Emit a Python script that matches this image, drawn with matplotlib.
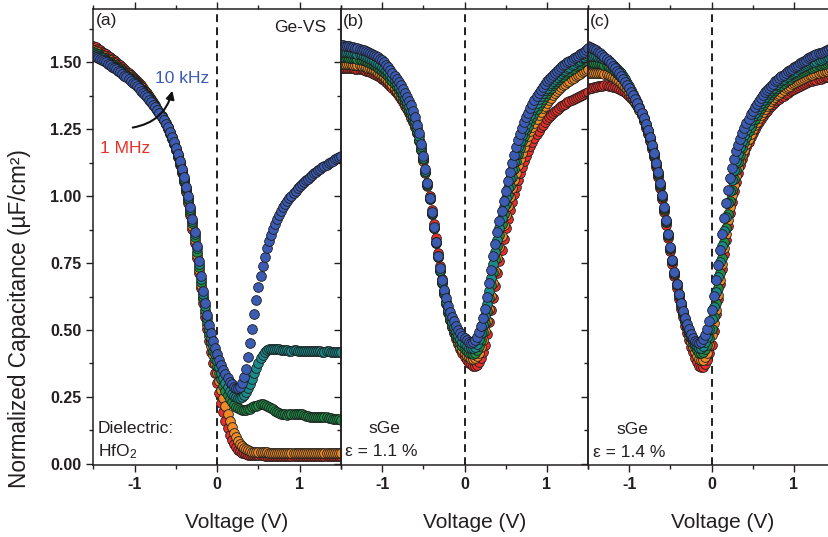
import numpy as np
import matplotlib
matplotlib.use("Agg")
import matplotlib.pyplot as plt
from matplotlib.ticker import MultipleLocator, FixedLocator, FormatStrFormatter

plt.rcParams['font.family'] = ['Liberation Sans', 'DejaVu Sans']
plt.rcParams['mathtext.fontset'] = 'custom'
plt.rcParams['mathtext.rm'] = 'Liberation Sans'
plt.rcParams['mathtext.it'] = 'Liberation Sans:italic'
plt.rcParams['axes.unicode_minus'] = False

# gate bias sweep (V), 25 mV steps
voltage = np.linspace(-1.5, 1.5, 121)

freq_labels = ["1 MHz", "10 kHz"]
series_colors = ["#e8302a", "#f08c28", "#1e8c46", "#1a8a8a", "#3c5cb4"]

# ---- (a) Ge-VS reference, HfO2 dielectric ----
a_1mhz = [1.562, 1.557, 1.552, 1.546, 1.541, 1.536, 1.530, 1.525, 1.519, 1.514,
          1.508, 1.502, 1.495, 1.489, 1.482, 1.475, 1.468, 1.461, 1.454, 1.447,
          1.440, 1.432, 1.423, 1.414, 1.405, 1.395, 1.385, 1.375, 1.364, 1.352,
          1.340, 1.327, 1.314, 1.300, 1.285, 1.269, 1.252, 1.234, 1.214, 1.194,
          1.172, 1.146, 1.117, 1.086, 1.052, 1.015, 0.974, 0.929, 0.879, 0.826,
          0.770, 0.712, 0.655, 0.601, 0.550, 0.502, 0.458, 0.417, 0.378, 0.340,
          0.303, 0.265, 0.228, 0.193, 0.160, 0.132, 0.108, 0.089, 0.073, 0.061,
          0.052, 0.046, 0.041, 0.038, 0.035, 0.033, 0.032, 0.032, 0.031, 0.031,
          0.031, 0.031, 0.031, 0.030, 0.030, 0.030, 0.030, 0.030, 0.030, 0.030,
          0.030, 0.030, 0.030, 0.030, 0.030, 0.030, 0.030, 0.030, 0.030, 0.030,
          0.030, 0.030, 0.030, 0.030, 0.030, 0.029, 0.029, 0.029, 0.029, 0.029,
          0.029, 0.029, 0.029, 0.029, 0.029, 0.029, 0.029, 0.029, 0.029, 0.029,
          0.029]
a_f2 = [1.548, 1.543, 1.538, 1.533, 1.528, 1.523, 1.518, 1.513, 1.508, 1.503,
        1.497, 1.491, 1.485, 1.479, 1.473, 1.466, 1.459, 1.452, 1.445, 1.439,
        1.432, 1.424, 1.416, 1.407, 1.398, 1.389, 1.379, 1.369, 1.359, 1.348,
        1.336, 1.324, 1.312, 1.299, 1.285, 1.270, 1.254, 1.236, 1.217, 1.196,
        1.174, 1.148, 1.120, 1.090, 1.057, 1.020, 0.981, 0.937, 0.889, 0.837,
        0.782, 0.725, 0.668, 0.615, 0.565, 0.520, 0.478, 0.440, 0.405, 0.372,
        0.340, 0.308, 0.277, 0.246, 0.215, 0.186, 0.160, 0.137, 0.116, 0.099,
        0.085, 0.074, 0.065, 0.058, 0.053, 0.050, 0.047, 0.045, 0.044, 0.043,
        0.043, 0.042, 0.042, 0.042, 0.042, 0.041, 0.041, 0.041, 0.041, 0.041,
        0.041, 0.041, 0.040, 0.040, 0.040, 0.040, 0.040, 0.040, 0.040, 0.040,
        0.040, 0.040, 0.040, 0.040, 0.040, 0.040, 0.040, 0.040, 0.040, 0.040,
        0.040, 0.040, 0.040, 0.039, 0.039, 0.039, 0.039, 0.039, 0.039, 0.039,
        0.039]
a_f3 = [1.538, 1.534, 1.530, 1.525, 1.520, 1.515, 1.510, 1.505, 1.500, 1.495,
        1.490, 1.485, 1.479, 1.473, 1.467, 1.461, 1.454, 1.447, 1.440, 1.433,
        1.426, 1.418, 1.410, 1.402, 1.393, 1.384, 1.375, 1.365, 1.355, 1.345,
        1.334, 1.323, 1.311, 1.298, 1.285, 1.271, 1.256, 1.238, 1.219, 1.198,
        1.176, 1.151, 1.124, 1.094, 1.062, 1.026, 0.988, 0.945, 0.898, 0.847,
        0.793, 0.736, 0.678, 0.625, 0.576, 0.531, 0.490, 0.455, 0.422, 0.392,
        0.365, 0.339, 0.315, 0.292, 0.272, 0.255, 0.240, 0.229, 0.220, 0.213,
        0.208, 0.205, 0.202, 0.201, 0.201, 0.203, 0.206, 0.210, 0.214, 0.217,
        0.220, 0.222, 0.222, 0.220, 0.217, 0.213, 0.208, 0.203, 0.198, 0.194,
        0.190, 0.187, 0.185, 0.184, 0.183, 0.184, 0.185, 0.186, 0.187, 0.187,
        0.186, 0.184, 0.182, 0.179, 0.177, 0.175, 0.174, 0.174, 0.174, 0.175,
        0.176, 0.176, 0.175, 0.173, 0.171, 0.169, 0.168, 0.167, 0.166, 0.166,
        0.165]
a_f4 = [1.532, 1.528, 1.524, 1.520, 1.515, 1.510, 1.505, 1.500, 1.495, 1.490,
        1.485, 1.480, 1.474, 1.468, 1.462, 1.456, 1.449, 1.442, 1.435, 1.429,
        1.422, 1.414, 1.406, 1.398, 1.390, 1.381, 1.372, 1.363, 1.354, 1.344,
        1.334, 1.323, 1.311, 1.299, 1.286, 1.272, 1.257, 1.240, 1.221, 1.200,
        1.178, 1.153, 1.127, 1.097, 1.066, 1.031, 0.994, 0.952, 0.907, 0.858,
        0.805, 0.748, 0.690, 0.636, 0.588, 0.544, 0.505, 0.471, 0.440, 0.411,
        0.385, 0.361, 0.340, 0.320, 0.302, 0.286, 0.272, 0.261, 0.253, 0.248,
        0.245, 0.246, 0.250, 0.258, 0.268, 0.282, 0.298, 0.317, 0.338, 0.358,
        0.378, 0.394, 0.408, 0.418, 0.424, 0.428, 0.430, 0.430, 0.429, 0.428,
        0.427, 0.426, 0.425, 0.425, 0.424, 0.423, 0.423, 0.424, 0.424, 0.423,
        0.422, 0.421, 0.421, 0.422, 0.422, 0.421, 0.420, 0.420, 0.421, 0.421,
        0.420, 0.419, 0.419, 0.420, 0.420, 0.419, 0.418, 0.418, 0.419, 0.419,
        0.418]
a_10khz = [1.525, 1.522, 1.518, 1.514, 1.510, 1.505, 1.500, 1.495, 1.490, 1.485,
           1.480, 1.475, 1.469, 1.463, 1.457, 1.451, 1.445, 1.439, 1.432, 1.425,
           1.418, 1.411, 1.403, 1.395, 1.387, 1.379, 1.370, 1.361, 1.352, 1.342,
           1.332, 1.321, 1.310, 1.298, 1.285, 1.271, 1.257, 1.240, 1.222, 1.202,
           1.180, 1.156, 1.130, 1.101, 1.070, 1.036, 1.000, 0.959, 0.915, 0.867,
           0.815, 0.758, 0.700, 0.647, 0.600, 0.557, 0.520, 0.488, 0.460, 0.434,
           0.410, 0.389, 0.370, 0.352, 0.335, 0.320, 0.307, 0.297, 0.288, 0.284,
           0.282, 0.288, 0.300, 0.323, 0.355, 0.400, 0.450, 0.505, 0.560, 0.612,
           0.660, 0.702, 0.740, 0.774, 0.805, 0.831, 0.855, 0.876, 0.895, 0.913,
           0.930, 0.945, 0.958, 0.971, 0.982, 0.992, 1.002, 1.011, 1.020, 1.029,
           1.037, 1.045, 1.052, 1.059, 1.066, 1.073, 1.079, 1.085, 1.091, 1.097,
           1.102, 1.108, 1.113, 1.118, 1.123, 1.128, 1.133, 1.138, 1.142, 1.146,
           1.150]

# ---- (b) sGe, strain 1.1 % ----
b_1mhz = [1.480, 1.480, 1.480, 1.479, 1.479, 1.478, 1.478, 1.477, 1.476, 1.475,
          1.474, 1.472, 1.470, 1.468, 1.465, 1.462, 1.458, 1.454, 1.450, 1.445,
          1.440, 1.434, 1.428, 1.421, 1.413, 1.404, 1.395, 1.385, 1.375, 1.364,
          1.352, 1.339, 1.325, 1.310, 1.294, 1.277, 1.258, 1.235, 1.207, 1.174,
          1.136, 1.094, 1.048, 0.999, 0.948, 0.895, 0.842, 0.789, 0.738, 0.690,
          0.645, 0.605, 0.570, 0.539, 0.512, 0.488, 0.466, 0.446, 0.428, 0.412,
          0.398, 0.387, 0.377, 0.371, 0.366, 0.366, 0.370, 0.380, 0.395, 0.417,
          0.445, 0.484, 0.530, 0.575, 0.620, 0.666, 0.712, 0.757, 0.800, 0.841,
          0.880, 0.915, 0.948, 0.979, 1.008, 1.035, 1.060, 1.085, 1.108, 1.130,
          1.150, 1.168, 1.186, 1.203, 1.218, 1.232, 1.245, 1.257, 1.268, 1.278,
          1.288, 1.296, 1.303, 1.311, 1.318, 1.324, 1.330, 1.336, 1.341, 1.346,
          1.351, 1.356, 1.360, 1.364, 1.368, 1.372, 1.376, 1.380, 1.383, 1.387,
          1.390]
b_f2 = [1.495, 1.495, 1.494, 1.494, 1.493, 1.493, 1.492, 1.491, 1.490, 1.489,
        1.488, 1.486, 1.484, 1.481, 1.478, 1.475, 1.471, 1.467, 1.462, 1.457,
        1.452, 1.446, 1.439, 1.432, 1.424, 1.415, 1.405, 1.395, 1.384, 1.372,
        1.360, 1.346, 1.331, 1.315, 1.298, 1.280, 1.259, 1.235, 1.206, 1.172,
        1.133, 1.088, 1.040, 0.988, 0.935, 0.880, 0.826, 0.773, 0.722, 0.675,
        0.633, 0.596, 0.563, 0.536, 0.512, 0.491, 0.472, 0.454, 0.438, 0.425,
        0.413, 0.404, 0.397, 0.393, 0.391, 0.394, 0.401, 0.415, 0.435, 0.462,
        0.495, 0.535, 0.580, 0.627, 0.675, 0.722, 0.768, 0.811, 0.852, 0.891,
        0.928, 0.964, 0.998, 1.030, 1.060, 1.088, 1.115, 1.140, 1.163, 1.185,
        1.205, 1.224, 1.242, 1.259, 1.275, 1.289, 1.303, 1.316, 1.328, 1.339,
        1.350, 1.360, 1.369, 1.378, 1.387, 1.394, 1.401, 1.408, 1.415, 1.421,
        1.427, 1.432, 1.438, 1.443, 1.448, 1.453, 1.458, 1.463, 1.467, 1.472,
        1.476]
b_f3 = [1.520, 1.520, 1.519, 1.519, 1.518, 1.517, 1.516, 1.515, 1.513, 1.512,
        1.510, 1.508, 1.505, 1.502, 1.499, 1.495, 1.491, 1.486, 1.481, 1.476,
        1.470, 1.464, 1.457, 1.449, 1.440, 1.430, 1.420, 1.409, 1.397, 1.385,
        1.372, 1.357, 1.341, 1.324, 1.306, 1.287, 1.266, 1.241, 1.211, 1.177,
        1.138, 1.092, 1.042, 0.989, 0.935, 0.880, 0.825, 0.772, 0.722, 0.676,
        0.635, 0.599, 0.568, 0.542, 0.520, 0.500, 0.482, 0.466, 0.452, 0.440,
        0.430, 0.422, 0.415, 0.412, 0.411, 0.415, 0.424, 0.440, 0.462, 0.491,
        0.527, 0.570, 0.618, 0.668, 0.718, 0.766, 0.812, 0.855, 0.895, 0.933,
        0.970, 1.006, 1.040, 1.072, 1.103, 1.131, 1.158, 1.182, 1.205, 1.226,
        1.246, 1.264, 1.282, 1.298, 1.313, 1.327, 1.340, 1.353, 1.365, 1.376,
        1.387, 1.397, 1.406, 1.415, 1.423, 1.430, 1.437, 1.444, 1.451, 1.457,
        1.463, 1.469, 1.475, 1.480, 1.486, 1.491, 1.496, 1.501, 1.506, 1.510,
        1.515]
b_f4 = [1.540, 1.540, 1.539, 1.539, 1.538, 1.537, 1.536, 1.534, 1.532, 1.530,
        1.527, 1.524, 1.521, 1.517, 1.513, 1.509, 1.504, 1.499, 1.494, 1.490,
        1.485, 1.478, 1.471, 1.463, 1.454, 1.444, 1.434, 1.422, 1.410, 1.397,
        1.383, 1.368, 1.352, 1.336, 1.318, 1.300, 1.280, 1.255, 1.225, 1.187,
        1.142, 1.095, 1.045, 0.992, 0.937, 0.882, 0.827, 0.775, 0.725, 0.680,
        0.640, 0.605, 0.575, 0.551, 0.530, 0.512, 0.495, 0.480, 0.467, 0.456,
        0.447, 0.440, 0.434, 0.431, 0.432, 0.438, 0.448, 0.465, 0.488, 0.518,
        0.553, 0.597, 0.645, 0.695, 0.745, 0.793, 0.838, 0.880, 0.920, 0.958,
        0.995, 1.031, 1.065, 1.097, 1.128, 1.157, 1.183, 1.207, 1.230, 1.251,
        1.270, 1.288, 1.305, 1.321, 1.335, 1.349, 1.362, 1.375, 1.386, 1.396,
        1.406, 1.415, 1.424, 1.432, 1.440, 1.447, 1.454, 1.461, 1.467, 1.473,
        1.479, 1.485, 1.490, 1.495, 1.500, 1.505, 1.511, 1.516, 1.522, 1.527,
        1.533]
b_10khz = [1.565, 1.564, 1.563, 1.562, 1.560, 1.559, 1.557, 1.555, 1.553, 1.551,
           1.548, 1.546, 1.543, 1.540, 1.537, 1.533, 1.529, 1.525, 1.520, 1.514,
           1.508, 1.500, 1.492, 1.483, 1.473, 1.462, 1.451, 1.439, 1.427, 1.414,
           1.401, 1.387, 1.372, 1.357, 1.340, 1.319, 1.295, 1.267, 1.235, 1.196,
           1.150, 1.100, 1.050, 0.995, 0.940, 0.885, 0.830, 0.778, 0.730, 0.688,
           0.650, 0.618, 0.590, 0.568, 0.550, 0.532, 0.515, 0.501, 0.488, 0.477,
           0.468, 0.461, 0.455, 0.453, 0.454, 0.462, 0.475, 0.493, 0.515, 0.545,
           0.580, 0.625, 0.675, 0.725, 0.775, 0.822, 0.865, 0.906, 0.945, 0.983,
           1.020, 1.056, 1.090, 1.123, 1.155, 1.184, 1.210, 1.233, 1.255, 1.276,
           1.295, 1.313, 1.330, 1.346, 1.360, 1.374, 1.387, 1.399, 1.410, 1.420,
           1.430, 1.439, 1.447, 1.455, 1.462, 1.469, 1.476, 1.483, 1.489, 1.495,
           1.500, 1.506, 1.511, 1.516, 1.521, 1.526, 1.531, 1.536, 1.541, 1.547,
           1.553]

# ---- (c) sGe, strain 1.4 % ----
c_1mhz = [1.400, 1.403, 1.406, 1.408, 1.410, 1.411, 1.412, 1.413, 1.414, 1.414,
          1.413, 1.412, 1.410, 1.408, 1.405, 1.401, 1.398, 1.393, 1.388, 1.382,
          1.376, 1.367, 1.358, 1.348, 1.336, 1.321, 1.304, 1.282, 1.255, 1.231,
          1.205, 1.177, 1.145, 1.110, 1.073, 1.032, 0.988, 0.941, 0.893, 0.844,
          0.795, 0.746, 0.700, 0.657, 0.617, 0.580, 0.547, 0.516, 0.488, 0.462,
          0.438, 0.416, 0.395, 0.379, 0.366, 0.361, 0.362, 0.371, 0.388, 0.413,
          0.445, 0.497, 0.560, 0.615, 0.670, 0.728, 0.785, 0.838, 0.890, 0.937,
          0.980, 1.019, 1.055, 1.086, 1.115, 1.140, 1.163, 1.184, 1.203, 1.221,
          1.237, 1.252, 1.265, 1.278, 1.289, 1.300, 1.310, 1.319, 1.328, 1.336,
          1.344, 1.351, 1.358, 1.364, 1.370, 1.376, 1.382, 1.387, 1.392, 1.397,
          1.401, 1.405, 1.409, 1.413, 1.417, 1.420, 1.423, 1.426, 1.429, 1.431,
          1.434, 1.436, 1.438, 1.440, 1.442, 1.444, 1.445, 1.447, 1.448, 1.449,
          1.450]
c_f2 = [1.460, 1.461, 1.461, 1.462, 1.462, 1.462, 1.461, 1.460, 1.458, 1.456,
        1.452, 1.449, 1.446, 1.441, 1.436, 1.431, 1.425, 1.417, 1.409, 1.400,
        1.390, 1.379, 1.367, 1.354, 1.340, 1.322, 1.302, 1.283, 1.262, 1.238,
        1.212, 1.184, 1.152, 1.118, 1.081, 1.040, 0.996, 0.950, 0.902, 0.853,
        0.804, 0.756, 0.709, 0.667, 0.627, 0.591, 0.558, 0.529, 0.502, 0.478,
        0.456, 0.436, 0.418, 0.403, 0.392, 0.387, 0.389, 0.398, 0.413, 0.442,
        0.480, 0.525, 0.575, 0.630, 0.688, 0.747, 0.805, 0.860, 0.912, 0.960,
        1.003, 1.042, 1.076, 1.104, 1.130, 1.153, 1.174, 1.195, 1.215, 1.233,
        1.250, 1.265, 1.279, 1.292, 1.305, 1.316, 1.327, 1.337, 1.346, 1.355,
        1.363, 1.370, 1.378, 1.384, 1.391, 1.397, 1.403, 1.408, 1.413, 1.418,
        1.423, 1.427, 1.431, 1.435, 1.439, 1.442, 1.446, 1.449, 1.452, 1.455,
        1.457, 1.460, 1.462, 1.464, 1.466, 1.468, 1.470, 1.472, 1.474, 1.476,
        1.477]
c_f3 = [1.500, 1.500, 1.500, 1.499, 1.499, 1.498, 1.497, 1.495, 1.492, 1.489,
        1.485, 1.481, 1.475, 1.469, 1.462, 1.455, 1.447, 1.437, 1.427, 1.416,
        1.405, 1.392, 1.378, 1.365, 1.350, 1.331, 1.310, 1.290, 1.268, 1.243,
        1.216, 1.187, 1.155, 1.121, 1.084, 1.043, 0.999, 0.953, 0.905, 0.856,
        0.807, 0.759, 0.712, 0.670, 0.630, 0.595, 0.563, 0.535, 0.510, 0.488,
        0.468, 0.451, 0.436, 0.424, 0.415, 0.412, 0.416, 0.427, 0.445, 0.471,
        0.505, 0.550, 0.600, 0.655, 0.712, 0.770, 0.828, 0.883, 0.935, 0.982,
        1.025, 1.063, 1.098, 1.128, 1.155, 1.180, 1.202, 1.223, 1.242, 1.260,
        1.276, 1.290, 1.304, 1.318, 1.330, 1.341, 1.352, 1.362, 1.372, 1.381,
        1.389, 1.397, 1.404, 1.411, 1.417, 1.423, 1.429, 1.434, 1.439, 1.444,
        1.449, 1.453, 1.457, 1.461, 1.465, 1.468, 1.472, 1.475, 1.478, 1.481,
        1.484, 1.487, 1.489, 1.492, 1.494, 1.496, 1.498, 1.500, 1.502, 1.504,
        1.506]
c_f4 = [1.525, 1.525, 1.524, 1.524, 1.523, 1.522, 1.520, 1.517, 1.513, 1.509,
        1.504, 1.498, 1.492, 1.485, 1.477, 1.469, 1.460, 1.449, 1.437, 1.425,
        1.412, 1.398, 1.383, 1.368, 1.352, 1.333, 1.313, 1.292, 1.270, 1.245,
        1.218, 1.189, 1.157, 1.123, 1.087, 1.046, 1.002, 0.955, 0.907, 0.857,
        0.808, 0.760, 0.714, 0.672, 0.633, 0.599, 0.567, 0.540, 0.516, 0.495,
        0.476, 0.461, 0.448, 0.439, 0.433, 0.433, 0.440, 0.454, 0.475, 0.504,
        0.540, 0.587, 0.640, 0.697, 0.755, 0.813, 0.870, 0.924, 0.975, 1.021,
        1.062, 1.098, 1.130, 1.159, 1.185, 1.208, 1.230, 1.249, 1.267, 1.284,
        1.299, 1.313, 1.326, 1.338, 1.350, 1.361, 1.371, 1.381, 1.390, 1.398,
        1.406, 1.414, 1.421, 1.428, 1.434, 1.440, 1.446, 1.451, 1.456, 1.461,
        1.466, 1.470, 1.475, 1.479, 1.483, 1.487, 1.490, 1.494, 1.497, 1.500,
        1.503, 1.506, 1.509, 1.511, 1.514, 1.516, 1.519, 1.521, 1.523, 1.525,
        1.528]
c_10khz = [1.560, 1.557, 1.553, 1.549, 1.545, 1.540, 1.535, 1.529, 1.522, 1.514,
           1.506, 1.497, 1.488, 1.479, 1.469, 1.459, 1.449, 1.438, 1.427, 1.415,
           1.403, 1.390, 1.377, 1.363, 1.347, 1.330, 1.312, 1.292, 1.270, 1.246,
           1.220, 1.191, 1.160, 1.126, 1.090, 1.049, 1.005, 0.958, 0.910, 0.860,
           0.810, 0.761, 0.715, 0.673, 0.635, 0.602, 0.572, 0.545, 0.522, 0.502,
           0.484, 0.471, 0.460, 0.454, 0.452, 0.456, 0.466, 0.482, 0.505, 0.535,
           0.575, 0.627, 0.685, 0.742, 0.800, 0.860, 0.920, 0.975, 1.025, 1.068,
           1.105, 1.138, 1.168, 1.192, 1.214, 1.236, 1.255, 1.273, 1.290, 1.306,
           1.320, 1.333, 1.345, 1.357, 1.368, 1.378, 1.388, 1.397, 1.405, 1.413,
           1.421, 1.429, 1.436, 1.443, 1.449, 1.455, 1.461, 1.467, 1.472, 1.477,
           1.482, 1.487, 1.492, 1.497, 1.501, 1.506, 1.511, 1.515, 1.519, 1.523,
           1.527, 1.530, 1.534, 1.537, 1.541, 1.544, 1.547, 1.550, 1.553, 1.556,
           1.559]

panel_tags = ["(a)", "(b)", "(c)"]
x_ticks = [-1, 0, 1]

panels = [
    [a_1mhz, a_f2, a_f3, a_f4, a_10khz],
    [b_1mhz, b_f2, b_f3, b_f4, b_10khz],
    [c_1mhz, c_f2, c_f3, c_f4, c_10khz],
]

W, H = 829, 537
fig = plt.figure(figsize=(W / 100, H / 100), dpi=100)
ink = "#231f20"

# panel frames in pixel units: (left, right), shared top/bottom
frames = [(93.5, 341.0), (341.0, 588.0), (588.0, 835.0)]
top_px, bot_px = 9.0, 465.0


def fx(px):
    return px / W


def fy(py):
    return 1 - py / H


axes = []
for i, ((x0, x1), curves) in enumerate(zip(frames, panels)):
    ax = fig.add_axes([fx(x0), fy(bot_px), (x1 - x0) / W, (bot_px - top_px) / H])
    axes.append(ax)
    ax.axvline(0, color=ink, lw=1.4, ls=(0, (4, 2.7)), zorder=1)
    for vals, col in zip(curves, series_colors):
        ax.plot(voltage, vals, ls="none", marker="o", ms=7.0, mfc=col,
                mec="#1d1d1d", mew=0.6, zorder=2)
    ax.set_xlim(-1.5, 1.5)
    ax.set_ylim(-0.005, 1.70)
    ax.xaxis.set_major_locator(FixedLocator(x_ticks))
    ax.xaxis.set_minor_locator(FixedLocator([-1.5, -0.5, 0.5, 1.5]))
    ax.yaxis.set_major_locator(MultipleLocator(0.25))
    ax.yaxis.set_minor_locator(MultipleLocator(0.125))
    ax.yaxis.set_major_formatter(FormatStrFormatter("%.2f"))
    ax.tick_params(which="both", direction="out", top=True, bottom=True,
                   left=True, right=False, color=ink, width=1.0)
    ax.tick_params(which="major", length=5, pad=3.5)
    ax.tick_params(which="minor", length=3)
    ax.tick_params(labelleft=(i == 0), labelsize=11.5, labelcolor=ink)
    for lab in ax.get_xticklabels() + ax.get_yticklabels():
        lab.set_fontweight("bold")
    for sp in ax.spines.values():
        sp.set_linewidth(1.1)
        sp.set_color(ink)
    ax.patch.set_alpha(0)

# x-axis titles
for cx in (237, 474.5, 722.5):
    fig.text(fx(cx), fy(528), "Voltage (V)", ha="center", va="baseline",
             fontsize=15, color=ink)

fig.text(fx(20), fy(319), "Normalized Capacitance (\u00b5F/cm\u00b2)", rotation=90,
         ha="center", va="center", fontsize=16.3, color=ink)

fs = 12.5
fig.text(fx(96), fy(25), panel_tags[0], fontsize=fs, color=ink, va="baseline")
fig.text(fx(343), fy(26), panel_tags[1], fontsize=fs, color=ink, va="baseline")
fig.text(fx(590), fy(26), panel_tags[2], fontsize=fs, color=ink, va="baseline")
fig.text(fx(326), fy(32), "Ge-VS", fontsize=fs, color=ink, ha="right", va="baseline")
fig.text(fx(155), fy(83), freq_labels[1], fontsize=fs, color=series_colors[4], va="baseline")
fig.text(fx(100), fy(153), freq_labels[0], fontsize=fs, color=series_colors[0], va="baseline")
fig.text(fx(98), fy(433), "Dielectric:", fontsize=fs, color=ink, va="baseline")
fig.text(fx(98), fy(456), "HfO$_2$", fontsize=fs, color=ink, va="baseline")
fig.text(fx(384), fy(433), "sGe", fontsize=fs, color=ink, ha="center", va="baseline")
fig.text(fx(345), fy(456), "\u03b5 = 1.1 %", fontsize=fs, color=ink, va="baseline")
fig.text(fx(632.5), fy(434), "sGe", fontsize=fs, color=ink, ha="center", va="baseline")
fig.text(fx(593), fy(457), "\u03b5 = 1.4 %", fontsize=fs, color=ink, va="baseline")

# curved arrow: 1 MHz -> 10 kHz
fig.add_artist(matplotlib.patches.FancyArrowPatch(
    (fx(130), fy(128)), (fx(173), fy(88)), transform=fig.transFigure,
    arrowstyle="-|>", connectionstyle="arc3,rad=0.35", mutation_scale=12,
    lw=1.5, color="#111111"))

fig.savefig("out.png", dpi=100)
